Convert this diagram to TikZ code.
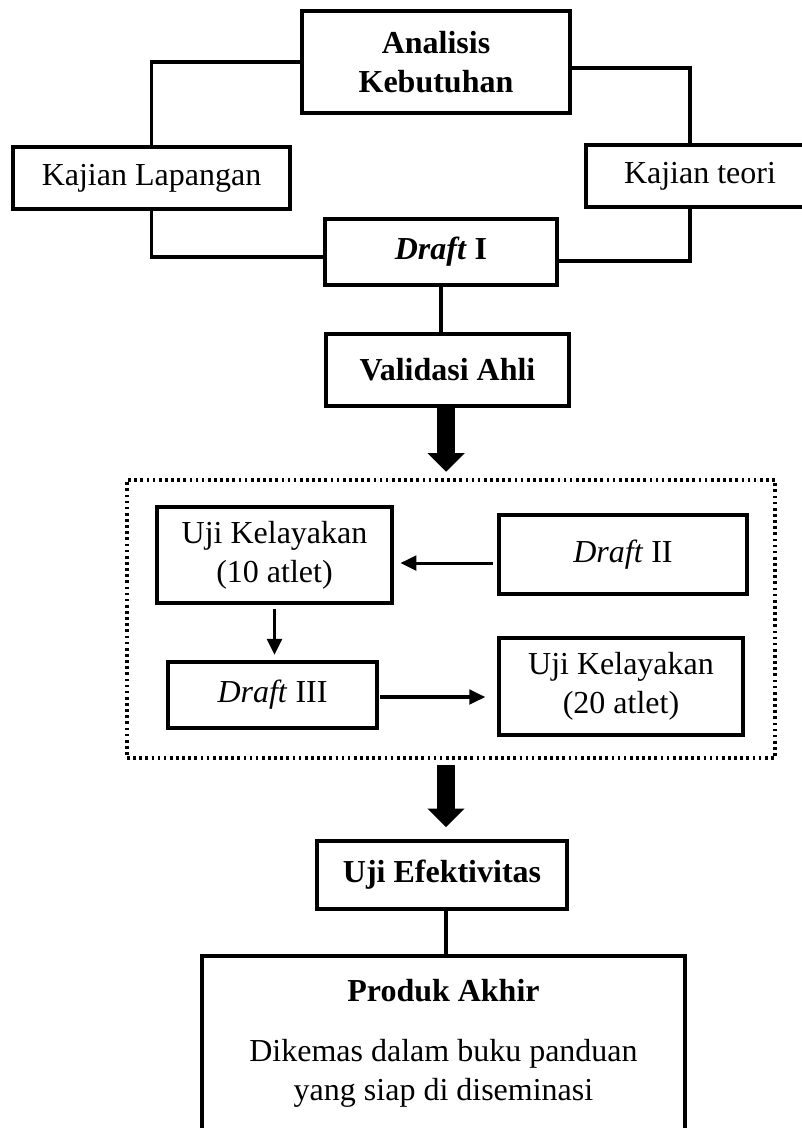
\documentclass[tikz,border=0pt]{standalone}
\usepackage{fontspec}
\setmainfont{Liberation Serif}
\usetikzlibrary{arrows.meta,calc}
\begin{document}
\begin{tikzpicture}[x=0.75pt,y=-0.75pt,
  box/.style={draw, line width=2.6pt, inner sep=0pt, align=center,
    font=\fontsize{24pt}{29pt}\selectfont},
  dotbox/.style={draw, line width=2.3pt, dash pattern=on 2pt off 2.6pt, inner sep=0pt},
  conn/.style={line width=2.3pt},
  thinarrow/.style={line width=2.3pt, -{Triangle[length=12pt,width=11pt]}},
  bigarrow/.style={line width=13.5pt, -{Triangle[length=14pt,width=27pt]}}]
\useasboundingbox (0,0) rectangle (802,1128);
\clip (0,0) rectangle (802,1128);

\node[box, minimum width=201pt, minimum height=76.5pt] (ana) at (436,62) {\textbf{Analisis}\\\textbf{Kebutuhan}};
\node[box, minimum width=207.75pt, minimum height=46.5pt] (lap) at (151.5,178) {Kajian Lapangan};
\node[box, minimum width=171pt, minimum height=46.5pt] (teo) at (700,176) {Kajian teori};
\node[box, minimum width=174pt, minimum height=49.5pt] (d1) at (441,252) {\textbf{\textit{Draft} I}};
\node[box, minimum width=182.25pt, minimum height=54pt] (val) at (447.5,370) {\textbf{Validasi Ahli}};
\node[dotbox, minimum width=486pt, minimum height=208.5pt] (group) at (451,619) {};
\node[box, minimum width=176.25pt, minimum height=72pt] (u10) at (274.5,555) {Uji Kelayakan\\(10 atlet)};
\node[box, minimum width=186pt, minimum height=59.25pt] (d2) at (623,554.5) {\textit{Draft} II};
\node[box, minimum width=156.75pt, minimum height=49.5pt] (d3) at (272.5,695) {\textit{Draft} III};
\node[box, minimum width=183pt, minimum height=72.75pt] (u20) at (621,686.5) {Uji Kelayakan\\(20 atlet)};
\node[box, minimum width=187.5pt, minimum height=51pt] (uef) at (442,875) {\textbf{Uji Efektivitas}};
\node[box, minimum width=362.25pt, minimum height=131.25pt] (prod) at (443.5,1043.5)
  {\textbf{Produk Akhir}\\[16pt]Dikemas dalam buku panduan\\yang siap di diseminasi};

\draw[conn] (ana.west) -| (lap.north);
\draw[conn] ([yshift=-4.5pt]ana.east) -| ([xshift=-7.5pt]teo.north);
\draw[conn] (lap.south) |- ([yshift=-3.75pt]d1.west);
\draw[conn] ([xshift=-7.5pt]teo.south) |- ([yshift=-6.75pt]d1.east);
\draw[conn] (d1.south) -- (d1.south |- val.north);
\draw[bigarrow, shorten >=5pt] ([xshift=-1pt]val.south) -- ([xshift=-1pt]val.south |- group.north);
\draw[thinarrow, shorten >=5pt, shorten <=3pt] ([yshift=-6.4pt]d2.west) -- ([yshift=-6.4pt]d2.west -| u10.east);
\draw[thinarrow, shorten <=3pt, shorten >=4pt] (u10.south) -- (u10.south |- d3.north);
\draw[thinarrow, shorten <=1pt, shorten >=9pt] ([yshift=-1.5pt]d3.east) -- ([yshift=-1.5pt]d3.east -| u20.west);
\draw[bigarrow, shorten <=4pt, shorten >=9pt] ([xshift=3pt]uef.north |- group.south) -- ([xshift=3pt]uef.north);
\draw[conn] ([xshift=3pt]uef.south) -- ([xshift=3pt]uef.south |- prod.north);
\end{tikzpicture}
\end{document}
